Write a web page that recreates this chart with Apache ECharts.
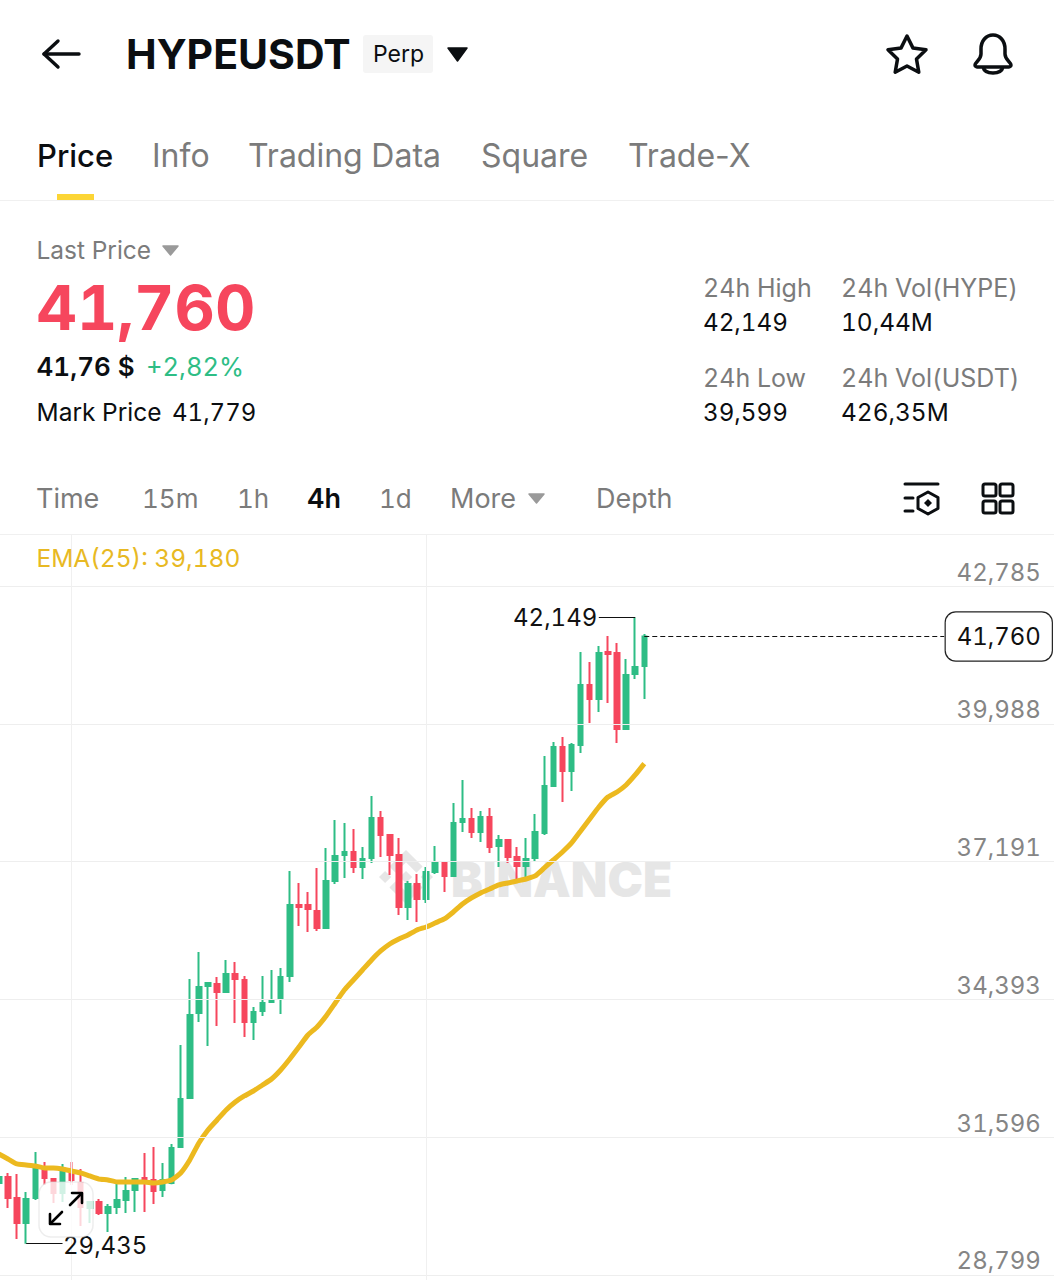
<!DOCTYPE html>
<html>
<head>
<meta charset="utf-8">
<script src="https://cdn.jsdelivr.net/npm/echarts@6/dist/echarts.min.js"></script>
<style>
  html, body { margin: 0; padding: 0; background: #fff; }
  #chart { width: 1054px; height: 1280px; }
  /* tabular digits everywhere, but they also widen the hyphen, so Trade-X opts out via its font list */
  #chart text:not([style*="Arial"]) { font-feature-settings: "tnum"; font-variant-numeric: tabular-nums; }
</style>
</head>
<body>
<div id="chart"></div>
<script>
// price tick labels on the right side
var tickValues = [28799, 31596, 34393, 37191, 39988, 42785];
var lastPrice = 41760;
var highPrice = 42149;
var lowPrice = 29435;

// 4h candles, oldest first: open, close, low, high
var candles = [
  [30667,30788,30565,30890],[30788,30362,30159,30870],[30362,29855,29530,30849],[29855,30342,29435,30484],
  [30362,30971,30322,31296],[30951,30768,30626,31093],[30748,30464,30261,30768],[30464,30890,30281,31052],
  [30910,30728,30626,31093],[30667,30179,29794,30951],[30159,30281,29855,30281],[30281,30058,30017,30342],
  [30058,30179,29672,30240],[30179,30322,30037,30646],[30322,30504,30058,30788],[30525,30748,30078,30768],
  [30768,30667,30078,31276],[30728,30504,30240,31397],[30525,30728,30382,31073],[30667,31377,30640,31458],
  [31397,32372,31377,33468],[32392,34077,32372,34808],[34118,34645,33935,35356],[34666,34727,33448,34747],
  [34706,34544,33854,34848],[34544,34909,34524,35194],[34909,34808,33915,35153],[34788,33935,33630,34869],
  [33935,34138,33570,34239],[34158,34321,34057,34869],[34341,34382,34321,34991],[34402,34848,34097,35031],
  [34869,36310,34747,37000],[36310,36269,35884,36757],[36310,36229,35762,36574],[36188,35843,35782,37061],
  [35843,36797,35823,37467],[36797,37305,36736,38036],[37325,37386,36858,37975],[37386,37081,36960,37853],
  [37081,37244,36838,37487],[37264,38076,37163,38523],[38076,37731,37284,38218],[37731,37325,36919,37751],
  [37325,36269,36107,37670],[36269,36736,36006,36797],[36736,36432,35965,36939],[36432,36980,36351,37081],
  [36980,37183,36939,37508],[37183,36899,36574,37203],[36899,37975,36879,38381],[37995,38056,37792,38848],
  [38056,37792,37670,38279],[37792,38096,37589,38218],[38096,37487,37366,38279],[37508,37630,37081,37731],
  [37630,37284,37163,37650],[37284,37102,36818,37487],[37102,37244,36858,37670],[37264,37792,37183,38157],
  [37772,38726,37731,39335],[38726,39517,38706,39619],[39517,39030,38401,39720],[39030,39558,38624,39599],
  [39558,40776,39396,41446],[40776,40492,40005,41243],[40492,41426,40228,41568],[41446,41405,40411,41771],
  [41426,39883,39599,41629],[39883,40979,39863,41304],[40999,41141,40898,42149],[41162,41760,40492,41811]
];

// EMA(25), same length as candles
var emaValues = [
  31255,31154,31052,31032,31012,30971,30971,30951,30910,30870,30809,30748,
  30728,30687,30687,30687,30687,30667,30687,30728,30870,31134,31479,31743,
  31946,32149,32311,32433,32534,32656,32778,32961,33184,33427,33671,33833,
  34057,34321,34585,34788,34991,35194,35376,35518,35620,35701,35803,35863,
  35945,36026,36168,36330,36452,36554,36635,36716,36757,36797,36838,36899,
  37061,37224,37386,37569,37812,38056,38299,38502,38604,38746,38949,39180
];

// one slot per candle, the rest is the empty space right of the last candle
var categories = [];
for (var i = 0; i < 117; i++) categories.push(i);

var FONT = 'Inter';
var GREEN = '#2ebd85', RED = '#f6465d', INK = '#0b0e11', GRAY = '#7b7b7b', GOLD = '#ecb91f';

function fmt(v) { return v.toLocaleString('en-US'); }

// icons that are easier as svg paths
echarts.graphic.registerShape('bellIcon', echarts.graphic.extendPath(
  'M975 65C975 62 981 60 981 54L981 49C981 41 986 35 993 35C1000 35 1005 41 1005 49L1005 54C1005 60 1011 62 1011 65C1011 66 1010 67 1009 67L977 67C976 67 975 66 975 65ZM983 67C984 71 988 73 993 73C998 73 1002 71 1003 67', {}));
echarts.graphic.registerShape('logoIcon', echarts.graphic.extendPath(
  'M7.34 10.09 12 5.43l4.66 4.66 2.71-2.71L12 0 4.63 7.38zM0 12l2.71-2.71L5.42 12l-2.71 2.71zM12 9.29 14.71 12 12 14.71 9.29 12zM12 18.57l-4.66-4.66-2.71 2.71L12 24l7.37-7.38-2.71-2.71zM18.58 12l2.71-2.71L24 12l-2.71 2.71z', {}));

function txt(x, y, s, size, color, weight) {
  return { type: 'text', x: x, y: y, z: 50, style: {
    text: s, fontSize: size, fontFamily: s === 'Trade-X' ? 'Inter, Arial' : FONT, fontWeight: weight || 'normal',
    fill: color, verticalAlign: 'middle', align: 'left'
  }};
}
function tri(x0, x1, y0, y1, color) {
  return { type: 'polygon', z: 50, shape: { points: [[x0, y0], [x1, y0], [(x0 + x1) / 2, y1]] },
    style: { fill: color, stroke: color, lineWidth: 1.5, lineJoin: 'round' } };
}
function line(pts, color, w) {
  return { type: 'polyline', z: 50, shape: { points: pts },
    style: { stroke: color, lineWidth: w, fill: 'none', lineCap: 'round', lineJoin: 'round' } };
}
function box(x, y, w, h) {
  return { type: 'rect', z: 50, shape: { x: x, y: y, width: w, height: h, r: 2 },
    style: { fill: 'none', stroke: INK, lineWidth: 3 } };
}

var tabs = [['Info', 152], ['Trading Data', 248], ['Square', 481], ['Trade-X', 628]];
var intervals = [['Time', 36, 27], ['15m', 142, 26], ['1h', 237, 26], ['1d', 379, 26], ['More', 450, 27], ['Depth', 596, 27]];

var pageItems = [
  // header
  line([[79, 54], [44, 54]], INK, 3.4),
  line([[58, 41], [44, 54], [58, 67]], INK, 3.4),
  txt(126, 54, 'HYPEUSDT', 41, INK, 'bold'),
  { type: 'rect', z: 49, shape: { x: 363, y: 35, width: 70, height: 38, r: 3 }, style: { fill: '#f5f5f5' } },
  txt(373, 54, 'Perp', 23, INK),
  tri(448, 467, 48, 61, INK),
  { type: 'polygon', z: 50, shape: { points: [[907,36],[912.9,47.9],[926,49.8],[916.5,59.1],[918.8,72.2],[907,66],[895.2,72.2],[897.5,59.1],[888,49.8],[901.1,47.9]] },
    style: { fill: 'none', stroke: INK, lineWidth: 3.5, lineJoin: 'round' } },
  { type: 'bellIcon', z: 50, style: { fill: 'none', stroke: INK, lineWidth: 3.5, lineJoin: 'round' } },

  // tabs
  txt(37, 155, 'Price', 31, INK, 500),
  { type: 'rect', z: 50, shape: { x: 57, y: 194, width: 37, height: 6 }, style: { fill: '#fcd535' } },
  { type: 'rect', z: 49, shape: { x: 0, y: 200, width: 1054, height: 1 }, style: { fill: '#f0f0f0' } },

  // last price block
  txt(36.5, 250, 'Last Price', 24.5, GRAY),
  tri(163, 178, 246, 255, '#9a9a9a'),
  txt(36.5, 307, fmt(lastPrice), 62.5, RED, 'bold'),
  txt(36.5, 366, '41,76 $', 26, INK, 600),
  txt(146, 366, '+2,82%', 25.5, GREEN),
  txt(36.5, 412, 'Mark Price', 24.5, INK),
  txt(172, 412, '41,779', 24, INK),

  // 24h stats
  txt(703, 288, '24h High', 25, GRAY),
  txt(703, 322, fmt(highPrice), 24.2, INK),
  txt(841, 288, '24h Vol(HYPE)', 25, GRAY),
  txt(841, 322, '10,44M', 24.4, INK),
  txt(703, 378, '24h Low', 25, GRAY),
  txt(703, 412, '39,599', 24.2, INK),
  txt(841, 378, '24h Vol(USDT)', 25, GRAY),
  txt(841, 412, '426,35M', 24.4, INK),

  // interval row
  txt(307, 498, '4h', 27, INK, 600),
  tri(529, 544, 494, 503, '#9a9a9a'),
  line([[905, 484], [938, 484]], INK, 3),
  line([[905, 498], [913, 498]], INK, 3),
  line([[905, 511], [913, 511]], INK, 3),
  { type: 'polygon', z: 50, shape: { points: [[928,492],[938,497.5],[938,508.5],[928,514],[918,508.5],[918,497.5]] },
    style: { fill: 'none', stroke: INK, lineWidth: 3, lineJoin: 'round' } },
  { type: 'polygon', z: 50, shape: { points: [[928,499],[932,503],[928,507],[924,503]] }, style: { fill: INK } },
  box(983, 484, 13, 12), box(1000, 484, 13, 12), box(983, 501, 13, 12), box(1000, 501, 13, 12),
  { type: 'rect', z: 0, shape: { x: 0, y: 534, width: 1054, height: 1 }, style: { fill: '#f0f0f0' } },

  // indicator readout
  txt(36.5, 558, 'EMA(25): ' + fmt(emaValues[emaValues.length - 1]), 24.5, '#e8b923'),

  // watermark, sits under the series
  { type: 'logoIcon', z: 0, x: 379, y: 850, scaleX: 2.25, scaleY: 2.25, style: { fill: '#e6e6e6' } },
  { type: 'text', x: 451, y: 879, z: 0, style: { text: 'BINANCE', fontSize: 47.5, fontFamily: FONT, fontWeight: 900,
      fill: '#e6e6e6', verticalAlign: 'middle' } },

  // expand button floating over the chart
  { type: 'rect', z: 60, shape: { x: 39, y: 1182, width: 54, height: 55, r: 12 },
    style: { fill: 'rgba(255,255,255,0.78)', stroke: 'rgba(215,215,215,0.45)', lineWidth: 1.5 } },
  Object.assign(line([[70, 1205], [81, 1194]], '#000', 2.6), { z: 61 }),
  Object.assign(line([[72, 1193], [82, 1193], [82, 1203]], '#000', 2.6), { z: 61 }),
  Object.assign(line([[62, 1212], [51, 1223]], '#000', 2.6), { z: 61 }),
  Object.assign(line([[50, 1214], [50, 1224], [60, 1224]], '#000', 2.6), { z: 61 })
];

tabs.forEach(function (t) { pageItems.push(txt(t[1], 155, t[0], 32, GRAY)); });
intervals.forEach(function (t) { pageItems.push(txt(t[1], 498, t[0], t[2], GRAY)); });

var lastIdx = candles.length - 1;

var gridLineData = tickValues.map(function (v) {
  return { yAxis: v, lineStyle: { color: '#eeeeee', width: 1, type: 'solid' } };
});

var option = {
  backgroundColor: '#fff',
  animation: false,
  graphic: { elements: pageItems },
  grid: { left: -5.65, top: 534, width: 1063.5, height: 746, outerBoundsMode: 'none' },
  xAxis: {
    type: 'category', data: categories, boundaryGap: true,
    axisLine: { show: false }, axisTick: { show: false }, axisLabel: { show: false }, splitLine: { show: false }
  },
  yAxis: {
    type: 'value', position: 'right', min: 28697, max: 43841,
    axisLine: { show: false }, axisTick: { show: false }, splitLine: { show: false },
    axisLabel: {
      inside: true, customValues: tickValues, margin: 17, align: 'right', verticalAlign: 'bottom', padding: [0, 0, 2, 0],
      fontFamily: FONT, fontSize: 24, color: '#858585', formatter: function (v) { return fmt(v); }
    }
  },
  series: [
    {
      // only carries the price grid and the two vertical time lines
      type: 'line', data: [], z: 1, silent: true,
      markLine: {
        silent: true, symbol: 'none', label: { show: false },
        lineStyle: { color: '#f0f0f0', width: 1, type: 'solid' },
        data: gridLineData.concat([{ xAxis: 8 }, { xAxis: 47 }])
      }
    },
    {
      type: 'candlestick', z: 2, data: candles, barWidth: 5,
      itemStyle: { color: GREEN, color0: RED, borderColor: GREEN, borderColor0: RED, borderWidth: 2 }
    },
    {
      type: 'line', z: 3, data: emaValues, showSymbol: false, smooth: 0.15,
      lineStyle: { color: GOLD, width: 5 }
    },
    {
      // high, low and last price annotations
      type: 'line', data: [], z: 4, silent: true,
      markLine: {
        silent: true, symbol: 'none', label: { show: false },
        data: [
          [{ coord: [66, highPrice], lineStyle: { color: '#111', width: 1, type: 'solid' } }, { coord: [70, highPrice] }],
          [{ coord: [3, lowPrice], lineStyle: { color: '#111', width: 1, type: 'solid' } }, { coord: [7, lowPrice] }],
          [{ coord: [lastIdx, lastPrice], lineStyle: { color: '#111', width: 1, type: [5, 3] } }, { coord: [104, lastPrice] }]
        ]
      },
      markPoint: {
        silent: true, symbol: 'circle', symbolSize: 1, itemStyle: { color: 'rgba(0,0,0,0)' },
        data: [
          { coord: [66, highPrice], label: { show: true, position: 'left', distance: 1, formatter: fmt(highPrice), fontSize: 24, fontFamily: FONT, color: '#111' } },
          { coord: [7, lowPrice], label: { show: true, position: 'right', distance: 0, offset: [0, 2], formatter: fmt(lowPrice), fontSize: 24, fontFamily: FONT, color: '#111' } },
          { coord: [110, lastPrice], label: { show: true, position: 'inside', formatter: fmt(lastPrice), fontSize: 24, fontFamily: FONT, color: '#111',
              backgroundColor: '#fff', borderColor: '#222', borderWidth: 1.2, borderRadius: 10, width: 106, height: 48, align: 'center', verticalAlign: 'middle', lineHeight: 48 } }
        ]
      }
    }
  ]
};

var myChart = echarts.init(document.getElementById('chart'), null, { renderer: 'svg', width: 1054, height: 1280 });
myChart.setOption(option);
</script>
</body>
</html>
